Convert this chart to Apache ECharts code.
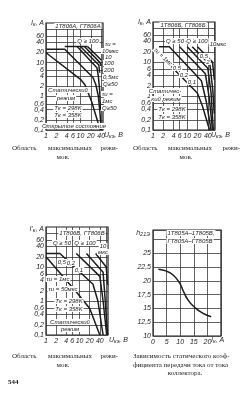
<!DOCTYPE html>
<html>
<head>
<meta charset="utf-8">
<script src="https://cdn.jsdelivr.net/npm/echarts@6/dist/echarts.min.js"></script>
<style>
html, body { margin: 0; padding: 0; background: #fff; }
#chart { width: 251px; height: 400px; }
</style>
</head>
<body>
<div id="chart"></div>
<script>
// ---- ticks ----
const uTicks = [1, 2, 4, 6, 10, 20, 40, 60]
const uTickLabels = ['1', '2', '4', '6', '10', '20', '40', '']
const iTicks = [0.1, 0.2, 0.4, 0.6, 1, 2, 4, 6, 10, 20, 40, 60, 100]
const iTickLabels = ['0,1', '0,2', '0,4', '0,6', '1', '2', '4', '6', '10', '20', '40', '60', '']
const hTickLabels = ['10', '12,5', '15', '17,5', '20', '22,5', '25', '']

// ---- 1T806A: U (V), I (A) ----
const a1Static = [[1, 20], [1.3, 16], [10, 3.2], [13.5, 2.2], [21, 0.7], [32, 0.17], [38, 0.1]]
const a1Pulse1ms = [[1, 25], [3.5, 25], [23, 3.6], [28, 2.2], [33, 1.0], [37, 0.3], [40, 0.1]]
const a1Pulse500 = [[8, 30], [30, 7], [33, 4], [36, 1.5], [38, 0.4]]
const a1Pulse200 = [[10, 30], [34, 8.5], [36, 5]]
const a1Pulse100 = [[13, 30], [37, 10], [39, 8]]
const a1Pulse10 = [[16, 30], [40, 12]]
const a1Top = [[3.5, 30], [16, 30]]

// ---- 1T806Б ----
const b1Static = [[1, 20], [1.3, 20], [20, 1.2], [28, 0.5], [45, 0.1]]
const b1Pulse1ms = [[1.5, 28], [3, 28], [26, 2.8], [36, 0.7], [50, 0.1]]
const b1Pulse500 = [[6, 28], [34, 4.5], [44, 0.9], [55, 0.1]]
const b1Pulse200 = [[10, 28], [40, 6.5], [50, 1.2], [58, 0.1]]
const b1Pulse100 = [[14, 28], [46, 8.5], [56, 1.5], [62, 0.3]]
const b1Pulse10 = [[20, 28], [55, 10], [62, 3]]

// ---- 1T806B ----
const c1Static = [[1, 20], [9, 1.6], [20, 0.6], [40, 0.1]]
const c1Pulse1ms = [[1, 25], [2.6, 25], [25, 3.1], [35, 1], [50, 0.1]]
const c1Pulse500 = [[8, 25], [40, 5.3], [50, 1], [64, 0.1]]
const c1Pulse100 = [[16, 25], [50, 7], [58, 1], [68, 0.1]]
const c1Pulse10 = [[30, 25], [62, 10], [68, 3]]

// ---- h21E vs Ik ----
const hIk = [2, 5, 7.5, 9.9, 11.1, 12.9, 15.3, 18.4, 21.4]
const hH21 = [22.1, 21.75, 21.0, 19.5, 18.2, 16.5, 15.2, 14.1, 13.5]

const lg = Math.log10
const ink = '#1c1c1c'
const gridInk = '#3a3a3a'
const tickFont = { fontSize: 7, fontStyle: 'italic', fontFamily: 'Liberation Sans', color: ink }

function fmt(ticks, labels) {
  return v => {
    const k = ticks.findIndex(t => Math.abs(lg(t) - v) < 1e-6)
    return k < 0 ? '' : labels[k]
  }
}

function logX(gi, max) {
  const vals = uTicks.filter(t => t <= max).map(lg)
  return {
    type: 'value', gridIndex: gi, min: 0, max: lg(max),
    axisLine: { show: false },
    axisTick: { show: false, customValues: vals },
    axisLabel: Object.assign({ customValues: vals, margin: 3, formatter: fmt(uTicks, uTickLabels) }, tickFont),
    splitLine: { show: true, lineStyle: { color: gridInk, width: 0.8 } }
  }
}

function logY(gi) {
  const vals = iTicks.map(lg)
  return {
    type: 'value', gridIndex: gi, min: -1, max: lg(150),
    axisLine: { show: false },
    axisTick: { show: false, customValues: vals },
    axisLabel: Object.assign({ customValues: vals, margin: 2, formatter: fmt(iTicks, iTickLabels) }, tickFont),
    splitLine: { show: true, lineStyle: { color: gridInk, width: 0.8 } }
  }
}

function curve(gi, pts, w) {
  return {
    type: 'line', xAxisIndex: gi, yAxisIndex: gi, showSymbol: false, silent: true,
    lineStyle: { color: ink, width: w || 1.5 },
    data: pts.map(p => [lg(p[0]), lg(p[1])])
  }
}

function t(x, y, text, o) {
  o = o || {}
  return {
    type: 'text', x: x, y: y, rotation: o.rot || 0, z: 100,
    style: {
      text: text, rich: o.rich,
      font: o.font || 'italic 6px "Liberation Sans"',
      fill: ink, align: o.align || 'center', verticalAlign: 'middle',
      backgroundColor: o.bg === false ? null : '#fff', padding: o.bg === false ? 0 : [0, 1]
    }
  }
}

// axis names: main letter plus a lowered, smaller index
const sub = {
  i: { fontSize: 7, fontStyle: 'italic', fontFamily: 'Liberation Sans', color: ink },
  s: { fontSize: 5.5, fontStyle: 'italic', fontFamily: 'Liberation Sans', color: ink, padding: [3, 0, 0, 0] }
}
const serif = '7px "Liberation Serif"'

const chart = echarts.init(document.getElementById('chart'))
chart.setOption({
  animation: false,
  backgroundColor: '#fff',
  grid: [
    { left: 46, top: 23, width: 57, height: 107, show: true, borderColor: ink, borderWidth: 1.2 },
    { left: 153, top: 22, width: 62, height: 108, show: true, borderColor: ink, borderWidth: 1.2 },
    { left: 46, top: 227, width: 62, height: 108, show: true, borderColor: ink, borderWidth: 1.2 },
    { left: 153, top: 230, width: 68, height: 106, show: true, borderColor: ink, borderWidth: 1.2 }
  ],
  xAxis: [
    logX(0, 45), logX(1, 65), logX(2, 70),
    {
      type: 'value', gridIndex: 3, min: 0, max: 25, interval: 5,
      axisLine: { show: false }, axisTick: { show: false },
      axisLabel: Object.assign({ margin: 3, formatter: v => (v > 20 ? '' : String(v)) }, tickFont),
      splitLine: { show: true, lineStyle: { color: gridInk, width: 0.8 } }
    }
  ],
  yAxis: [
    logY(0), logY(1), logY(2),
    {
      type: 'value', gridIndex: 3, min: 10, max: 29.2, interval: 2.5,
      axisLine: { show: false }, axisTick: { show: false },
      axisLabel: Object.assign({ margin: 2, formatter: v => hTickLabels[Math.round((v - 10) / 2.5)] || '' }, tickFont),
      splitLine: { show: true, lineStyle: { color: gridInk, width: 0.8 } }
    }
  ],
  series: [
    curve(0, a1Static), curve(0, a1Pulse1ms), curve(0, a1Pulse500), curve(0, a1Pulse200),
    curve(0, a1Pulse100), curve(0, a1Pulse10), curve(0, a1Top),
    curve(1, b1Static), curve(1, b1Pulse1ms), curve(1, b1Pulse500), curve(1, b1Pulse200),
    curve(1, b1Pulse100), curve(1, b1Pulse10),
    curve(2, c1Static), curve(2, c1Pulse1ms), curve(2, c1Pulse500), curve(2, c1Pulse100), curve(2, c1Pulse10),
    {
      type: 'line', xAxisIndex: 3, yAxisIndex: 3, showSymbol: false, smooth: true, silent: true,
      lineStyle: { color: ink, width: 1.5 },
      data: hIk.map((x, i) => [x, hH21[i]])
    }
  ],
  graphic: [
    // chart 1
    t(44, 23, '{i|I}{s|к}{i|, А}', { rich: sub, align: 'right', bg: false }),
    t(78, 26, '1Т806А, ГТ806А'),
    t(88, 41, 'Q ≥ 100'),
    t(105, 44, 'τи =', { align: 'left', bg: false }),
    t(101, 51, '10мкс', { align: 'left' }),
    t(104, 57, '10', { align: 'left' }),
    t(103, 63, '100', { align: 'left' }),
    t(103, 70, '200', { align: 'left' }),
    t(102, 77, '0,5мс', { align: 'left' }),
    t(102, 84, 'Q≥50', { align: 'left' }),
    t(101, 94, 'τи =', { align: 'left' }),
    t(101, 101, '1мс', { align: 'left' }),
    t(101, 108, 'Q≥50', { align: 'left' }),
    t(68, 90, 'Статический'),
    t(66, 98, 'режим'),
    t(68, 108, 'Tк = 298K'),
    t(68, 115, 'Tк = 358K'),
    t(74, 126, 'Открытое состояние'),
    t(104, 135, '{i|U}{s|кэ}{i|, В}', { rich: sub, align: 'left', bg: false }),
    // chart 2
    t(151, 22, '{i|I}{s|к}{i|, А}', { rich: sub, align: 'right', bg: false }),
    t(183, 25, '1Т806Б, ГТ806Б'),
    t(175, 41, 'Q ≥ 50'),
    t(197, 41, 'Q ≥ 100'),
    t(218, 44, '10мкс'),
    t(163, 57, 'τи = 1мс', { rot: -0.75 }),
    t(177, 68, '0,5'),
    t(184, 75, '0,2'),
    t(192, 82, '0,1'),
    t(204, 56, '0,5'),
    t(208, 62, '2'),
    t(165, 91, 'Статичес-'),
    t(166, 99, 'кий режим'),
    t(172, 109, 'Tк = 298K'),
    t(172, 117, 'Tк = 358K'),
    t(211, 135, '{i|U}{s|кэ}{i|, В}', { rich: sub, align: 'left', bg: false }),
    // chart 3
    t(44, 229, '{i|I\'}{s|к}{i|, А}', { rich: sub, align: 'right', bg: false }),
    t(82, 233, '1Т806В, ГТ806В'),
    t(62, 243, 'Q ≥ 50'),
    t(85, 243, 'Q ≥ 100'),
    t(103, 246, '10'),
    t(103, 252, 'мкс'),
    t(62, 262, '0,5'),
    t(71, 263, '0,2'),
    t(79, 270, '0,1'),
    t(58, 279, 'τи = 1мс'),
    t(63, 289, 'τи = 50мкс'),
    t(69, 301, 'Tк = 298K'),
    t(69, 309, 'Tк = 358K'),
    t(70, 322, 'Статический'),
    t(70, 329, 'режим'),
    t(109, 340, '{i|U}{s|кэ}{i|, В}', { rich: sub, align: 'left', bg: false }),
    // chart 4
    t(150, 233, '{i|h}{s|21Э}', { rich: sub, align: 'right', bg: false }),
    t(191, 233, '1Т805А–1Т805В,'),
    t(190, 241, 'ГТ805А–ГТ805В'),
    t(211, 340, '{i|I}{s|к}{i|, А}', { rich: sub, align: 'left', bg: false }),
    // captions
    t(12, 148, 'Область', { font: serif, align: 'left', bg: false }),
    t(70, 148, 'максимальных', { font: serif, bg: false }),
    t(118, 148, 'режи-', { font: serif, align: 'right', bg: false }),
    t(63, 157, 'мов.', { font: serif, bg: false }),
    t(133, 148, 'Область', { font: serif, align: 'left', bg: false }),
    t(190, 148, 'максимальных', { font: serif, bg: false }),
    t(240, 148, 'режи-', { font: serif, align: 'right', bg: false }),
    t(186, 157, 'мов.', { font: serif, bg: false }),
    t(12, 356, 'Область', { font: serif, align: 'left', bg: false }),
    t(70, 356, 'максимальных', { font: serif, bg: false }),
    t(118, 356, 'режи-', { font: serif, align: 'right', bg: false }),
    t(63, 365, 'мов.', { font: serif, bg: false }),
    t(133, 356, 'Зависимость статического коэф-', { font: serif, align: 'left', bg: false }),
    t(133, 365, 'фициента передачи тока от тока', { font: serif, align: 'left', bg: false }),
    t(185, 373, 'коллектора.', { font: serif, bg: false }),
    t(8, 382, '544', { font: 'bold 7px "Liberation Serif"', align: 'left', bg: false })
  ]
})
</script>
</body>
</html>
